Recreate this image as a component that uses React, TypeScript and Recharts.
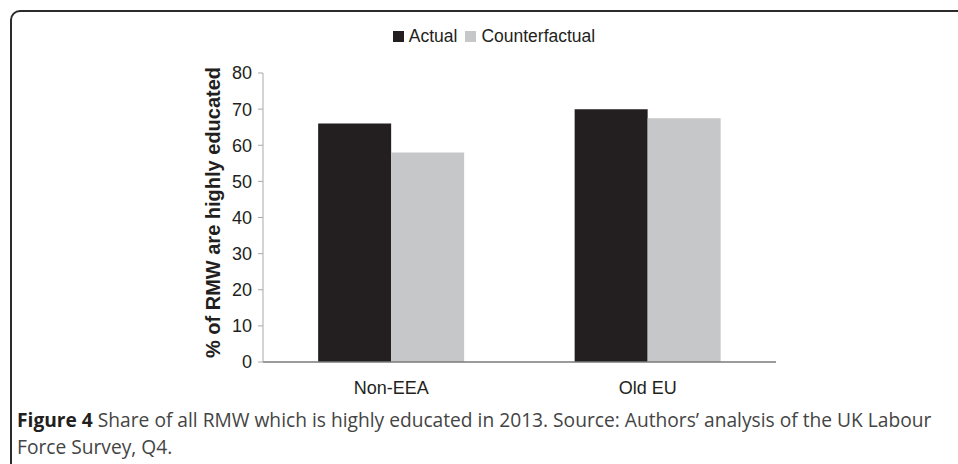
import { BarChart, Bar, XAxis, YAxis, Legend } from "recharts";

const categories = ["Non-EEA", "Old EU"];
const actualValues = [66, 70];
const counterfactualValues = [58, 67.5];
const yTicks = [0, 10, 20, 30, 40, 50, 60, 70, 80];

const seriesNames = { actual: "Actual", counterfactual: "Counterfactual" };
const colors = { actual: "#231f20", counterfactual: "#c6c7c8" };

const data = categories.map((name, i) => ({
  name,
  actual: actualValues[i],
  counterfactual: counterfactualValues[i],
}));

const font = "'Liberation Sans', Arial, sans-serif";

function LegendContent() {
  const items = [
    { label: seriesNames.actual, color: colors.actual },
    { label: seriesNames.counterfactual, color: colors.counterfactual },
  ];
  return (
    <div style={{ display: "flex", justifyContent: "center", alignItems: "center", fontFamily: font, fontSize: 17.5, color: "#231f20" }}>
      {items.map((it, i) => (
        <div key={it.label} style={{ display: "flex", alignItems: "center", marginLeft: i === 0 ? 0 : 8 }}>
          <span style={{ display: "inline-block", width: 11, height: 11, background: it.color, marginRight: 5 }} />
          <span>{it.label}</span>
        </div>
      ))}
    </div>
  );
}

// rotated axis title, nudged a little above the plot centre like the original
function YTitle({ viewBox }: any) {
  const x = viewBox.x + 10;
  const y = viewBox.y + viewBox.height / 2 - 5;
  return (
    <text
      x={x}
      y={y}
      transform={`rotate(-90, ${x}, ${y})`}
      textAnchor="middle"
      dominantBaseline="central"
      fontFamily={font}
      fontSize={20}
      fontWeight="bold"
      fill="#231f20"
    >
      % of RMW are highly educated
    </text>
  );
}

export default function App() {
  return (
    <div style={{ position: "absolute", left: 0, top: 0, width: 958, height: 464, overflow: "hidden", background: "#fff" }}>
      <div
        style={{
          position: "absolute",
          left: 10,
          top: 10,
          width: 1000,
          height: 520,
          border: "2px solid #2b2b2b",
          borderRadius: 10,
        }}
      />
      <div style={{ position: "absolute", left: 0, top: 0 }}>
        <BarChart
          width={958}
          height={464}
          data={data}
          margin={{ top: 52, right: 182, left: 203, bottom: 72 }}
          barCategoryGap="21.5%"
          barGap={0}
        >
          <Legend
            verticalAlign="top"
            content={<LegendContent />}
            wrapperStyle={{ top: 26, left: 0, width: 988 }}
          />
          <XAxis
            dataKey="name"
            axisLine={{ stroke: "#7a7a7a", strokeWidth: 1.5 }}
            tickLine={false}
            tickMargin={13}
            height={30}
            tick={{ fill: "#231f20", fontSize: 18, fontFamily: font }}
          />
          <YAxis
            domain={[0, 80]}
            ticks={yTicks}
            width={60}
            axisLine={{ stroke: "#a7a9ac" }}
            tickLine={{ stroke: "#a7a9ac" }}
            tickSize={5}
            tickMargin={6}
            tick={{ fill: "#231f20", fontSize: 18, fontFamily: font }}
            label={<YTitle />}
          />
          <Bar dataKey="actual" name={seriesNames.actual} fill={colors.actual} isAnimationActive={false} />
          <Bar dataKey="counterfactual" name={seriesNames.counterfactual} fill={colors.counterfactual} isAnimationActive={false} />
        </BarChart>
      </div>
      <div
        style={{
          position: "absolute",
          left: 17,
          top: 406,
          width: 918,
          fontFamily: "'Open Sans', sans-serif",
          fontSize: 19.2,
          lineHeight: "27px",
          color: "#444",
        }}
      >
        <span style={{ fontWeight: "bold", color: "#231f20" }}>Figure 4</span> Share of all RMW which is highly educated in 2013. Source: Authors’ analysis of the UK Labour Force Survey, Q4.
      </div>
    </div>
  );
}
